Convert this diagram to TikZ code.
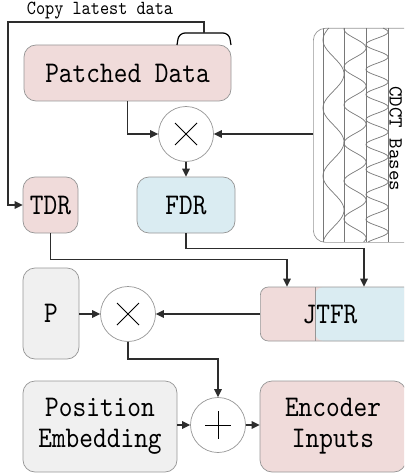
\documentclass[tikz,border=0pt]{standalone}
\usepackage{fontspec}
\setmonofont[FakeStretch=0.87]{lmmono10-regular.otf}
\newfontfamily\plainmono{lmmono10-regular.otf}
\usetikzlibrary{arrows.meta,calc}

\definecolor{pinkfill}{RGB}{240,219,218}
\definecolor{bluefill}{RGB}{218,236,242}
\definecolor{grayfill}{RGB}{240,240,240}
\definecolor{edge}{RGB}{150,150,150}
\definecolor{wire}{RGB}{45,45,45}
\definecolor{wavecol}{RGB}{120,120,120}

\newcommand{\boxfont}{\ttfamily\fontsize{30}{31}\selectfont}

\begin{document}
\begin{tikzpicture}[x=1pt,y=-1pt,
  box/.style={draw=edge, line width=0.7pt, rounded corners=12pt, inner sep=0pt,
              font=\boxfont, align=center},
  opcircle/.style={circle, draw=edge, line width=0.7pt, fill=white,
                   minimum size=55pt, inner sep=0pt},
  symline/.style={draw=black, line width=1pt},
  conn/.style={draw=wire, line width=1.4pt, -{Triangle[length=8pt,width=7.5pt]}},
  gridline/.style={draw=wavecol, line width=0.6pt},
  waveline/.style={draw=wavecol, line width=0.7pt}]

\useasboundingbox (0,0) rectangle (404,476);
\clip (0,0) rectangle (404,476);

% ---- top row: patched data and cosine bases ----
\node[box, fill=pinkfill, minimum width=207pt, minimum height=56pt] (pd) at (127.5,73) {Patched Data};

\node[box, minimum width=112pt, minimum height=214pt, anchor=north west] (cdct) at (313,28) {};
\begin{scope}
  \clip[rounded corners=12pt] (cdct.north west) rectangle (cdct.south east);
  \foreach \vx in {323,344,366,388}
    \draw[gridline] (\vx,28) -- (\vx,242);
  % three cosine bases of rising frequency (angles kept small for pgfmath)
  \draw[waveline] plot[domain=28:242, samples=240, variable=\t]
    ({333.5+10.5*cos((\t-74)*5.2941)}, \t);
  \draw[waveline] plot[domain=28:242, samples=300, variable=\t]
    ({355+11*cos((\t-48)*9.4737)}, \t);
  \draw[waveline] plot[domain=28:242, samples=400, variable=\t]
    ({377+11*cos((\t-32)*14.4)}, \t);
\end{scope}
\node[rotate=-90, anchor=base, inner sep=0pt, font=\plainmono\fontsize{20}{20}\selectfont] (cdcttxt) at (389.5,139) {CDCT Bases};

% ---- multiplication with the bases ----
\node[opcircle] (mul1) at (186,134) {};
\draw[symline] ($(mul1)+(-11,-11)$) -- ($(mul1)+(11,11)$);
\draw[symline] ($(mul1)+(-11,11)$) -- ($(mul1)+(11,-11)$);

\node[box, fill=pinkfill, minimum width=55pt, minimum height=56pt] (tdr) at (50.5,205) {TDR};
\node[box, fill=bluefill, minimum width=98pt, minimum height=56pt] (fdr) at (186,205) {FDR};

% ---- copy of the latest data ----
\node[anchor=base, font=\ttfamily\fontsize{20}{22}\selectfont, inner sep=0pt] (copylbl) at (100,15) {Copy latest data};
\draw[draw=black, line width=1.2pt, rounded corners=6pt] (177,45) -- (179,33) -- (229,33) -- (231,45);
\coordinate (brtop) at (204,33);
\coordinate (fbcorner) at (8,22);
\draw[conn] (brtop) |- (fbcorner) |- (tdr.west);

\draw[conn] (pd.south) |- (mul1.west);
\draw[conn] (cdct.west |- mul1) -- (mul1.east);
\draw[conn] (mul1.south) -- (fdr.north);

% ---- joint representation ----
\node[box, fill=pinkfill, rounded corners=8pt, minimum width=160pt, minimum height=54pt, anchor=west,
      path picture={
        \fill[bluefill] ([xshift=55pt]path picture bounding box.north west) rectangle (path picture bounding box.south east);
        \draw[draw=edge, line width=0.7pt] ([xshift=55pt]path picture bounding box.north west) -- ([xshift=55pt]path picture bounding box.south west);
      }] (jtfr) at (260,314) {};
\node[font=\boxfont, inner sep=0pt] (jtfrtxt) at (330,314) {JTFR};

\draw[conn] (tdr.south) -- ++(0,26) -| ([xshift=27pt]jtfr.north west);
\draw[conn] (fdr.south) -- ++(0,15) -| ([xshift=104pt]jtfr.north west);

% ---- weighting with P ----
\node[box, fill=grayfill, minimum width=56pt, minimum height=91pt] (p) at (51,313.5) {P};
\node[opcircle] (mul2) at (128,314) {};
\draw[symline] ($(mul2)+(-11,-11)$) -- ($(mul2)+(11,11)$);
\draw[symline] ($(mul2)+(-11,11)$) -- ($(mul2)+(11,-11)$);

\draw[conn] (jtfr.west) -- (mul2.east);
\draw[conn] (p.east |- mul2) -- (mul2.west);

% ---- position embedding and encoder inputs ----
\node[box, fill=grayfill, minimum width=154pt, minimum height=91pt] (pe) at (100,426.5) {Position\\Embedding};
\node[opcircle] (plus) at (218,425) {};
\draw[symline] ($(plus)+(-13,0)$) -- ($(plus)+(13,0)$);
\draw[symline] ($(plus)+(0,-14)$) -- ($(plus)+(0,14)$);
\node[box, fill=pinkfill, minimum width=146pt, minimum height=91pt] (enc) at (333,426.5) {Encoder\\Inputs};

\draw[conn] (mul2.south) -- ++(0,17) -| (plus.north);
\draw[conn] (pe.east |- plus) -- (plus.west);
\draw[conn] (plus.east) -- (enc.west |- plus);

\end{tikzpicture}
\end{document}
